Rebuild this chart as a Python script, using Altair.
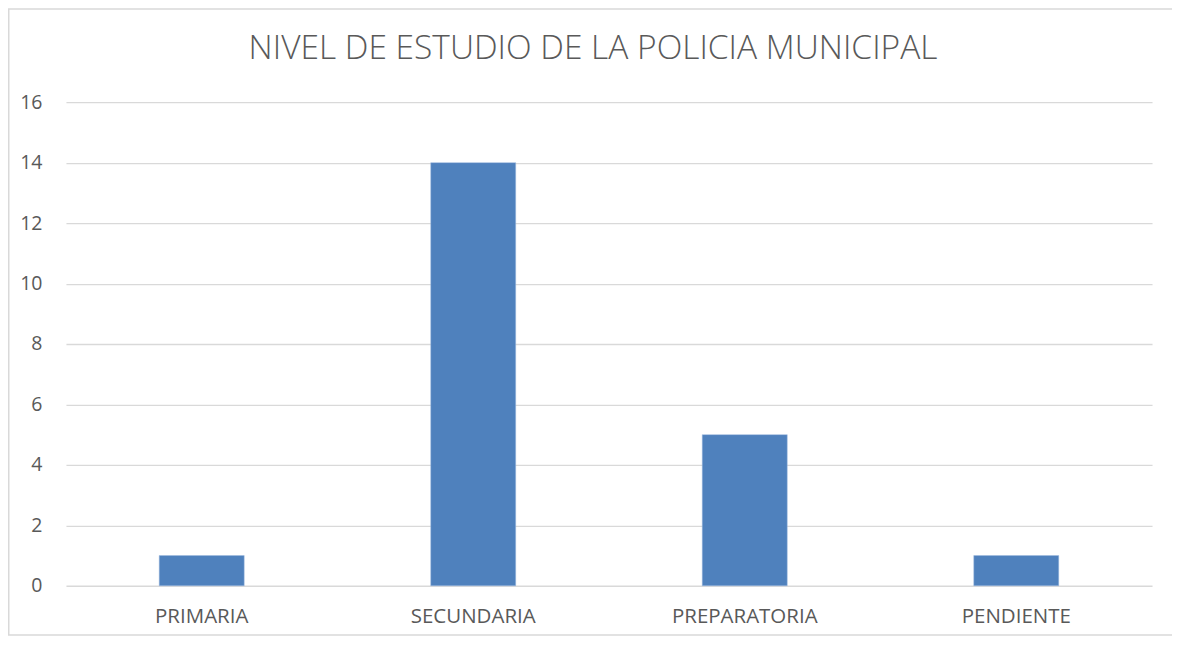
import altair as alt
import pandas as pd

categories = ["PRIMARIA", "SECUNDARIA", "PREPARATORIA", "PENDIENTE"]
values = [1, 14, 5, 1]
y_ticks = [0, 2, 4, 6, 8, 10, 12, 14, 16]
title_text = "NIVEL DE ESTUDIO DE LA POLICIA MUNICIPAL"

df = pd.DataFrame({"cat": categories, "val": values})
tdf = pd.DataFrame({"t": [title_text]})

W, H = 1087, 484
PL, PT, PR, PB = 58, 94, 20, 50

bars = alt.Chart(df).mark_bar(color="#4f81bd", stroke="#9dbbe0", strokeWidth=0.5).encode(
    x=alt.X("cat:N", sort=categories,
            scale=alt.Scale(paddingInner=0.687, paddingOuter=0.3435),
            axis=alt.Axis(title=None, labelAngle=0, domain=False, ticks=False,
                          labelBaseline="alphabetic", labelPadding=37,
                          labelFont="Open Sans", labelFontSize=20.5,
                          labelColor="#595959", grid=False)),
    y=alt.Y("val:Q", scale=alt.Scale(domain=[0, 16], nice=False),
            axis=alt.Axis(title=None, values=y_ticks, domain=False, ticks=False,
                          labelPadding=24, labelFont="Open Sans", labelFontSize=19.5,
                          labelColor="#595959", gridColor="#d9d9d9", gridWidth=1.3)),
)

title = alt.Chart(tdf).mark_text(font="Open Sans", fontSize=33.5, fontWeight=300,
                                 color="#595959", baseline="alphabetic", align="center").encode(
    text="t:N", x=alt.value(527.5), y=alt.value(-43)
)

border = alt.Chart(tdf).mark_rect(fill=None, stroke="#d9d9d9", strokeWidth=1.5).encode(
    x=alt.value(-PL + 0.75), x2=alt.value(W + PR + 10),
    y=alt.value(-PT + 0.75), y2=alt.value(H + PB - 0.75)
)

chart = alt.layer(bars, title, border).properties(
    width=W, height=H,
    autosize=alt.AutoSizeParams(type="none"),
    padding={"left": PL, "top": PT, "right": PR, "bottom": PB},
).configure_view(stroke=None)

chart.save("out.html", embed_options={"renderer": "svg", "actions": False})
